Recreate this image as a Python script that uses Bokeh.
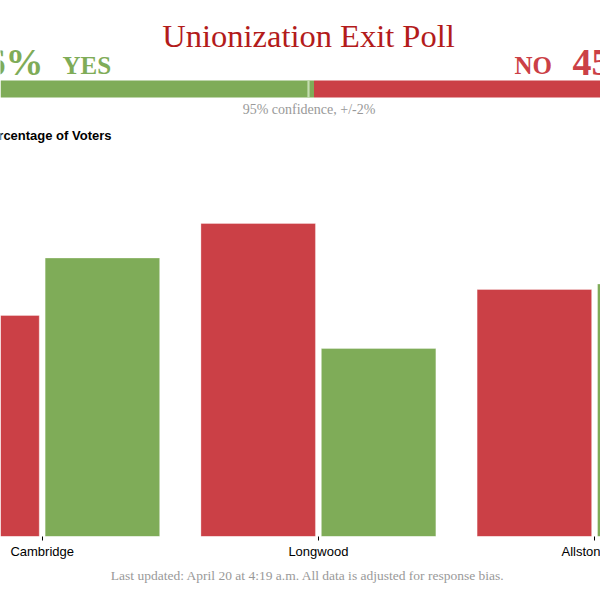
from bokeh.plotting import figure
from bokeh.models import Range1d, FixedTicker, ColumnDataSource
from bokeh.layouts import column
from bokeh.core.properties import value
from bokeh.transform import dodge
from bokeh.embed import file_html
from bokeh.resources import INLINE

# ---------------- data ----------------
categories = ["Cambridge", "Longwood", "Allston"]
no_pct = [44.2, 62.6, 49.4]
yes_pct = [55.7, 37.6, 50.5]
overall_yes = 46
overall_no = 45
title_text = "Unionization Exit Poll"
confidence_text = "95% confidence, +/-2%"
axis_title = "Percentage of Voters"
footer_text = "Last updated: April 20 at 4:19 a.m. All data is adjusted for response bias."

# ---------------- style ----------------
GREEN = "#7fac58"
RED = "#cb4046"
TITLE_RED = "#b31b1b"
GRAY = "#999999"
SERIF = "Liberation Serif"
SANS = "Liberation Sans"
W = 600


def clean(fig):
    fig.grid.visible = False
    fig.outline_line_color = None
    fig.background_fill_color = "white"
    fig.border_fill_color = "white"


# ---------------- header ----------------
yes_share = 100 * overall_yes / (overall_yes + overall_no)
hdr = figure(width=W, height=150, x_range=Range1d(19.2, 79.2), y_range=Range1d(150, 0),
             output_backend="svg", toolbar_location=None, min_border=0,
             x_axis_location=None, y_axis_location=None)
hdr.extra_x_ranges = {"px": Range1d(0, 600)}
clean(hdr)
hdr.hbar(y=[88.5, 88.5], height=17, left=[0, yes_share], right=[yes_share, 100],
         fill_color=[GREEN, RED], line_color=None)
hdr.vbar(x=[50], width=0.22, top=80, bottom=97, fill_color="#c4ddb0", line_color=None)

hdr.text(x=[308], y=[35], text=[title_text], x_range_name="px",
         text_font=value(SERIF), text_font_size="32.5px", text_color=TITLE_RED,
         text_align="center", text_baseline="alphabetic")
hdr.text(x=[43], y=[61], text=[f"{overall_yes}%"], x_range_name="px",
         text_font=value(SERIF), text_font_size="38px", text_font_style="bold",
         text_color=GREEN, text_align="right", text_baseline="alphabetic")
hdr.text(x=[62], y=[65], text=["YES"], x_range_name="px",
         text_font=value(SERIF), text_font_size="25px", text_font_style="bold",
         text_color=GREEN, text_align="left", text_baseline="alphabetic")
hdr.text(x=[514], y=[65], text=["NO"], x_range_name="px",
         text_font=value(SERIF), text_font_size="25px", text_font_style="bold",
         text_color=RED, text_align="left", text_baseline="alphabetic")
hdr.text(x=[572], y=[61], text=[f"{overall_no}%"], x_range_name="px",
         text_font=value(SERIF), text_font_size="38px", text_font_style="bold",
         text_color=RED, text_align="left", text_baseline="alphabetic")
hdr.text(x=[308.5], y=[109.4], text=[confidence_text], x_range_name="px",
         text_font=value(SERIF), text_font_size="14px", text_color=GRAY,
         text_align="center", text_baseline="alphabetic")
hdr.text(x=[111], y=[134.7], text=[axis_title], x_range_name="px",
         text_font=value(SANS), text_font_size="13px", text_font_style="bold",
         text_color="black", text_align="right", text_baseline="alphabetic")

# ---------------- main chart ----------------
p = figure(width=W, height=412, x_range=Range1d(-0.151, 2.0214), y_range=Range1d(0, 77.2),
           output_backend="svg", toolbar_location=None, min_border=0, min_border_bottom=26,
           y_axis_location=None)
clean(p)
src = ColumnDataSource(dict(idx=list(range(len(categories))), no=no_pct, yes=yes_pct))
p.vbar(x=dodge("idx", -0.218), top="no", bottom=0, width=0.4146, source=src,
       fill_color=RED, line_color="white", line_alpha=0.3)
p.vbar(x=dodge("idx", 0.218), top="yes", bottom=0, width=0.4146, source=src,
       fill_color=GREEN, line_color="white", line_alpha=0.3)

ax = p.xaxis[0]
ax.ticker = FixedTicker(ticks=list(range(len(categories))))
ax.major_label_overrides = {i: c for i, c in enumerate(categories)}
ax.axis_line_color = None
ax.major_tick_in = 0
ax.major_tick_out = 4
ax.major_tick_line_color = "black"
ax.minor_tick_in = 0
ax.minor_tick_out = 0
ax.major_label_text_font = SANS
ax.major_label_text_font_size = "13px"
ax.major_label_text_color = "black"
ax.major_label_standoff = 3

# ---------------- footer ----------------
ftr = figure(width=W, height=38, x_range=Range1d(0, 600), y_range=Range1d(600, 562),
             output_backend="svg", toolbar_location=None, min_border=0,
             x_axis_location=None, y_axis_location=None)
clean(ftr)
ftr.text(x=[307.5], y=[575], text=[footer_text],
         text_font=value(SERIF), text_font_size="13.5px", text_color=GRAY,
         text_align="center", text_baseline="alphabetic")

layout = column(hdr, p, ftr, spacing=0)
open("out.html", "w").write(file_html(layout, INLINE))
